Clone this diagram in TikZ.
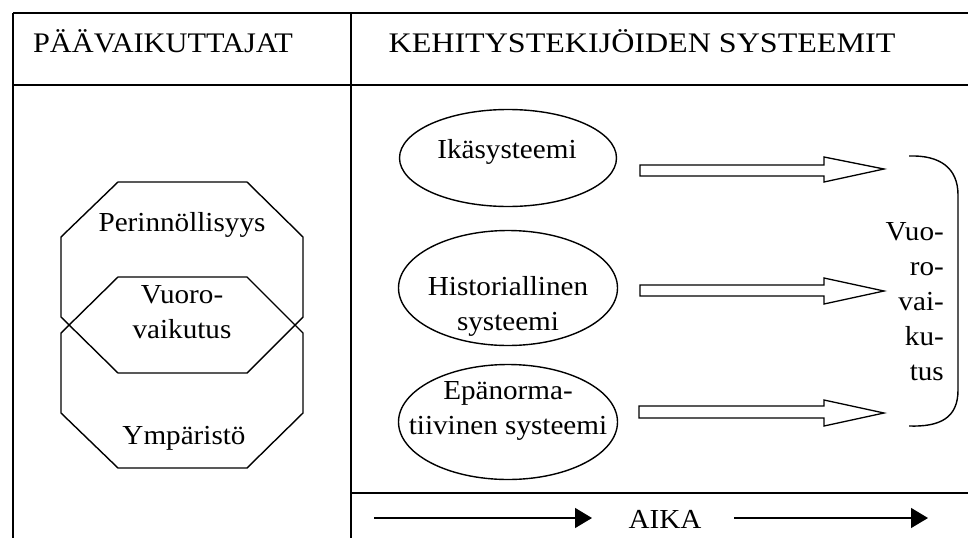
\documentclass[tikz,border=0pt]{standalone}
\usepackage{fontspec}
\setmainfont{Liberation Serif}[FakeStretch=1.06]
\usetikzlibrary{arrows.meta,shapes.geometric}
\begin{document}
\begin{tikzpicture}[x=1pt,y=-1pt,
  frame/.style={line width=1.7pt},
  shapeline/.style={line width=1.4pt},
  txt/.style={font=\fontsize{27.5}{35}\selectfont, inner sep=0pt, align=center},
  ell/.style={draw, ellipse, line width=1.4pt, inner sep=0pt},
  hollow/.style={draw, line width=1.3pt, line join=miter},
  timearrow/.style={line width=1.3pt, -{Triangle[length=17pt,width=20pt]}}
]
\useasboundingbox (0,0) rectangle (968,538);
% frame
\draw[frame] (13,13) -- (968,13);
\draw[frame] (13,85) -- (968,85);
\draw[frame] (13,13) -- (13,538);
\draw[frame] (351,13) -- (351,538);
\draw[frame] (351,493) -- (968,493);
% headers
\node[txt] (h1) at (163,41) {\scalebox{1.04}[1.03]{PÄÄVAIKUTTAJAT}};
\node[txt] (h2) at (642,41) {\scalebox{1.1}[1.03]{KEHITYSTEKIJÖIDEN SYSTEEMIT}};
% octagons
\draw[shapeline] (118,182) -- (247,182) -- (303,237) -- (303,317) -- (247,373) -- (118,373) -- (61,317) -- (61,237) -- cycle;
\draw[shapeline] (118,277) -- (247,277) -- (303,333) -- (303,413) -- (247,468) -- (118,468) -- (61,413) -- (61,333) -- cycle;
\node[txt] (per) at (182,225) {Perinnöllisyys};
\node[txt] (vuo) at (182,312) {Vuoro-\\vaikutus};
\node[txt] (ymp) at (184,438) {Ympäristö};
% ellipses
\node[ell, minimum width=217pt, minimum height=97pt] (e1) at (508,158) {};
\node[ell, minimum width=219pt, minimum height=115pt] (e2) at (508,288) {};
\node[ell, minimum width=219pt, minimum height=115pt] (e3) at (508,422) {};
\node[txt] (t1) at (507,152) {Ikäsysteemi};
\node[txt] (t2) at (508,306) {Historiallinen\\systeemi};
\node[txt] (t3) at (508,411) {Epänorma-\\tiivinen systeemi};
% hollow arrows
\draw[hollow] (640,165) -- (824,165) -- (824,157) -- (884,169) -- (824,182) -- (824,176) -- (640,176) -- cycle;
\draw[hollow] (640,285) -- (824,285) -- (824,278) -- (884,291) -- (824,304) -- (824,296) -- (640,296) -- cycle;
\draw[hollow] (639,406) -- (824,406) -- (824,400) -- (884,413) -- (824,426) -- (824,418) -- (639,418) -- cycle;
% bracket
\draw[shapeline] (909,156) .. controls (940,155) and (958,168) .. (958,195) -- (958,390) .. controls (958,418) and (940,427) .. (909,426);
\node[txt, align=right, anchor=east] (vv) at (944,302) {Vuo-\\ro-\\vai-\\ku-\\tus};
% time axis
\node[txt] (aika) at (665,519) {AIKA};
\coordinate (a1) at (374,518);
\coordinate (a2) at (592,518);
\coordinate (a3) at (734,518);
\coordinate (a4) at (928,518);
\draw[timearrow] (a1) -- (a2);
\draw[timearrow] (a3) -- (a4);
\end{tikzpicture}
\end{document}
